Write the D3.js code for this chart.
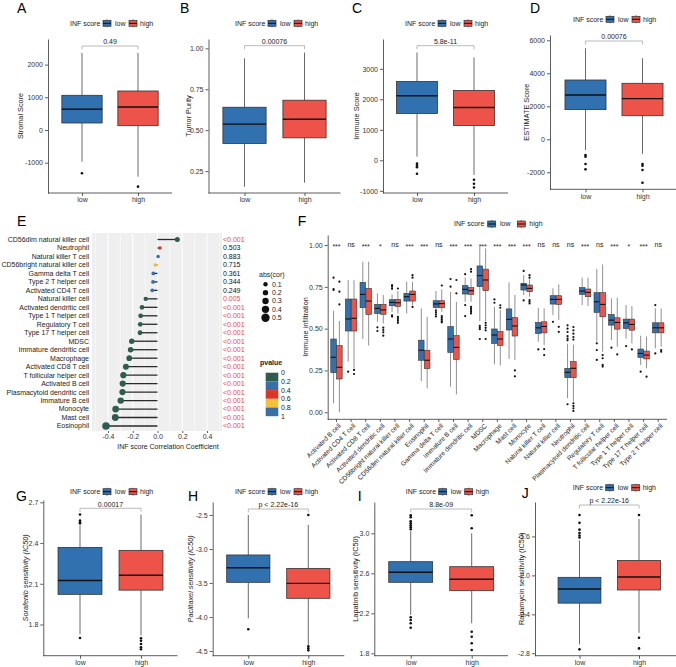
<!DOCTYPE html>
<html><head><meta charset="utf-8">
<script src="https://cdn.jsdelivr.net/npm/d3@7"></script>
<style>body{margin:0;background:#fff}svg{font-family:"Liberation Sans",Arial,sans-serif;display:block}</style>
</head><body><svg id="c" width="676" height="667"></svg>
<script>
// ---------------- DATA ----------------
const groups = ["low", "high"];
const groupColors = ["#3171B0", "#EE5349"];
// five-number summaries: [whiskerLow, q1, median, q3, whiskerHigh]
const stromalLow = [-970, 214, 633, 1061, 2355];
const stromalHigh = [-1428, 132, 703, 1193, 2355];
const stromalOutLow = [-1325];
const stromalOutHigh = [-1733];
const stromalTicks = [-1000, 0, 1000, 2000];

const purityLow = [0.155, 0.419, 0.537, 0.640, 0.939];
const purityHigh = [0.179, 0.453, 0.567, 0.683, 0.974];
const purityOutLow = [];
const purityOutHigh = [];
const purityTicks = [0.25, 0.50, 0.75, 1.00];

const immuneLow = [120, 1535, 2115, 2584, 3535];
const immuneHigh = [-480, 1140, 1730, 2290, 3370];
const immuneOutLow = [-110, -170, -230, -440];
const immuneOutHigh = [-640, -770, -890];
const immuneTicks = [-1000, 0, 1000, 2000, 3000];

const estimateLow = [-650, 1800, 2685, 3594, 5515];
const estimateHigh = [-880, 1430, 2467, 3394, 4910];
const estimateOutLow = [-950, -1050, -1500, -1820];
const estimateOutHigh = [-1500, -1600, -1860, -2630];
const estimateTicks = [-2000, 0, 2000, 4000, 6000];

const sorafenibLow = [1.73, 2.022, 2.124, 2.368, 2.53];
const sorafenibHigh = [1.72, 2.053, 2.163, 2.346, 2.61];
const sorafenibOutLow = [2.61, 2.565, 2.555, 2.545, 1.70];
const sorafenibOutHigh = [1.699, 1.68, 1.656, 1.632, 1.617];
const sorafenibTicks = [1.8, 2.1, 2.4, 2.7];

const paclitaxelLow = [-4.02, -3.49, -3.275, -3.088, -2.5];
const paclitaxelHigh = [-4.41, -3.725, -3.505, -3.285, -2.647];
const paclitaxelOutLow = [-4.18];
const paclitaxelOutHigh = [-2.5, -4.43, -4.46, -4.49];
const paclitaxelTicks = [-4.5, -4.0, -3.5, -3.0, -2.5];

const lapatinibLow = [2.183, 2.51, 2.61, 2.716, 3.02];
const lapatinibHigh = [2.10, 2.426, 2.54, 2.666, 3.0];
const lapatinibOutLow = [3.18, 3.16, 3.12, 3.10, 3.08, 3.06, 3.04, 2.16, 2.133, 2.10, 2.056];
const lapatinibOutHigh = [3.18, 3.05, 2.016, 1.966, 1.90, 1.833];
const lapatinibTicks = [1.8, 2.2, 2.6, 3.0];

const rapamycinLow = [-2.71, -2.285, -2.14, -2.02, -1.64];
const rapamycinHigh = [-2.59, -2.15, -2.017, -1.846, -1.42];
const rapamycinOutLow = [-1.38, -1.46, -1.53, -1.565, -1.59, -1.61, -2.76];
const rapamycinOutHigh = [-1.38, -2.64, -2.75];
const rapamycinTicks = [-2.8, -2.4, -2.0, -1.6];

// Panel E (lollipop)
const eCells = ["CD56dim natural killer cell","Neutrophil","Natural killer T cell","CD56bright natural killer cell","Gamma delta T cell","Type 2 T helper cell","Activated CD4 T cell","Natural killer cell","Activated dendritic cell","Type 1 T helper cell","Regulatory T cell","Type 17 T helper cell","MDSC","Immature dendritic cell","Macrophage","Activated CD8 T cell","T follicular helper cell","Activated B cell","Plasmacytoid dendritic cell","Immature  B cell","Monocyte","Mast cell","Eosinophil"];
const eCor = [0.16, 0.02, 0.005, -0.018, -0.034, -0.036, -0.042, -0.095, -0.125, -0.136, -0.139, -0.141, -0.208, -0.217, -0.228, -0.255, -0.276, -0.281, -0.283, -0.297, -0.338, -0.341, -0.416];
const ePValue = [0.0005, 0.503, 0.883, 0.715, 0.361, 0.344, 0.249, 0.005, 0.0005, 0.0005, 0.0005, 0.0005, 0.0005, 0.0005, 0.0005, 0.0005, 0.0005, 0.0005, 0.0005, 0.0005, 0.0005, 0.0005, 0.0005];
const ePText = ["<0.001","0.503","0.883","0.715","0.361","0.344","0.249","0.005","<0.001","<0.001","<0.001","<0.001","<0.001","<0.001","<0.001","<0.001","<0.001","<0.001","<0.001","<0.001","<0.001","<0.001","<0.001"];
const eTicks = [-0.4, -0.2, 0.0, 0.2, 0.4];
const eSizeLegend = [0.1, 0.2, 0.3, 0.4, 0.5];
const pBreaks = [0, 0.2, 0.4, 0.6, 0.8, 1];
const pColors = ["#2F5B50", "#3A6EA8", "#D9352A", "#F2C03A", "#3A6EA8"];

// Panel F (grouped boxplots)
const fCells = ["Activated B cell","Activated CD4 T cell","Activated CD8 T cell","Activated dendritic cell","CD56bright natural killer cell","CD56dim natural killer cell","Eosinophil","Gamma delta T cell","Immature  B cell","Immature dendritic cell","MDSC","Macrophage","Mast cell","Monocyte","Natural killer T cell","Natural killer cell","Neutrophil","Plasmacytoid dendritic cell","Regulatory T cell","T follicular helper cell","Type 1 T helper cell","Type 17 T helper cell","Type 2 T helper cell"];
const fLow = [
[0.054,0.237,0.329,0.438,0.607],[0.303,0.486,0.558,0.677,0.790],[0.438,0.625,0.705,0.777,0.900],[0.541,0.591,0.621,0.645,0.711],
[0.600,0.637,0.657,0.673,0.705],[0.591,0.665,0.691,0.711,0.781],[0.187,0.311,0.371,0.431,0.621],[0.612,0.627,0.648,0.667,0.725],
[0.153,0.358,0.438,0.512,0.721],[0.660,0.707,0.735,0.757,0.805],[0.545,0.751,0.817,0.875,0.990],[0.287,0.412,0.462,0.498,0.630],
[0.319,0.492,0.556,0.618,0.777],[0.701,0.731,0.761,0.771,0.820],[0.422,0.471,0.505,0.537,0.625],[0.581,0.647,0.675,0.697,0.741],
[0.084,0.207,0.239,0.263,0.410],[0.641,0.705,0.725,0.745,0.805],[0.422,0.597,0.661,0.715,0.856],[0.432,0.521,0.551,0.585,0.681],
[0.441,0.501,0.535,0.557,0.641],[0.283,0.328,0.352,0.378,0.458],[0.382,0.475,0.505,0.535,0.621]];
const fHigh = [
[0.000,0.199,0.269,0.399,0.546],[0.263,0.486,0.562,0.677,0.790],[0.399,0.585,0.665,0.741,0.900],[0.531,0.586,0.612,0.645,0.701],
[0.590,0.633,0.655,0.675,0.725],[0.641,0.665,0.705,0.725,0.780],[0.143,0.261,0.311,0.371,0.571],[0.600,0.625,0.650,0.667,0.735],
[0.107,0.316,0.388,0.458,0.660],[0.661,0.705,0.727,0.745,0.800],[0.545,0.727,0.791,0.856,0.980],[0.279,0.399,0.438,0.483,0.611],
[0.313,0.456,0.516,0.566,0.701],[0.691,0.721,0.741,0.761,0.795],[0.402,0.475,0.513,0.541,0.621],[0.551,0.645,0.675,0.697,0.765],
[0.064,0.207,0.263,0.303,0.405],[0.635,0.691,0.717,0.737,0.805],[0.362,0.571,0.645,0.715,0.884],[0.392,0.497,0.537,0.565,0.685],
[0.412,0.491,0.525,0.557,0.635],[0.263,0.319,0.342,0.366,0.452],[0.392,0.475,0.505,0.535,0.621]];
const fOutLow = [
[0.805,0.737,0.731],[0.243],[],[0.508,0.486],[0.760,0.750,0.738,0.580,0.572],[],[],[0.608,0.598,0.586,0.573],
[0.797,0.751],[0.826,0.641,0.575],[0.517,0.507,0.497,0.438],[0.675,0.655],[],[0.845,0.669],[0.376],[0.541],
[0.52,0.50,0.48,0.455,0.44,0.43,0.048],[],[0.412,0.372,0.313],[0.386],[0.396],[0.243],[0.641,0.352]];
const fOutHigh = [
[0.781,0.721,0.645],[0.253,0.229],[],[0.506,0.492,0.478,0.458],[0.740,0.570,0.558,0.547,0.535],[0.820,0.805,0.630],[],[0.758,0.575,0.565,0.555,0.545,0.538],
[0.791,0.711],[0.856,0.841,0.631,0.621,0.611,0.601,0.591],[0.535,0.520,0.505,0.490,0.438],[0.640,0.625],[0.250,0.215],[0.820,0.805,0.671,0.661,0.651],[0.378,0.342],[0.511,0.481],
[0.51,0.49,0.47,0.45,0.435,0.054,0.038,0.024,0.008],[],[0.342,0.323,0.283,0.273],[0.346],[0.376],[0.213],[0.372,0.362]];
const fSig = ["***","ns","***","*","ns","***","***","ns","***","***","***","***","***","***","ns","ns","ns","***","ns","***","*","***","ns"];
const fTicks = [0, 0.25, 0.50, 0.75, 1.00];

// ---------------- DRAW ----------------
const svg = d3.select("#c");
const TXT = "#222";
const noMinus = f => d => f(d).replace("\u2212", "-");

function legend(x0, y, offs) {
  const g = svg.append("g");
  g.append("text").attr("x", x0).attr("y", y).attr("dy", "0.35em").attr("font-size", 7).attr("fill", TXT).text("INF score");
  groups.forEach((gr, i) => {
    const kx = x0 + offs[i * 2];
    g.append("line").attr("x1", kx + 4).attr("x2", kx + 4).attr("y1", y - 4).attr("y2", y + 4).attr("stroke", "#555").attr("stroke-width", 0.8);
    g.append("rect").attr("x", kx).attr("y", y - 3).attr("width", 8).attr("height", 6).attr("fill", groupColors[i]).attr("stroke", "#333").attr("stroke-width", 0.7);
    g.append("line").attr("x1", kx).attr("x2", kx + 8).attr("y1", y).attr("y2", y).attr("stroke", "#111").attr("stroke-width", 1);
    g.append("text").attr("x", x0 + offs[i * 2 + 1]).attr("y", y).attr("dy", "0.35em").attr("font-size", 7).attr("fill", TXT).text(gr);
  });
}

function drawBox(g, cx, w, s, outs, color, y, r, lw, mw) {
  g.append("line").attr("x1", cx).attr("x2", cx).attr("y1", y(s[0])).attr("y2", y(s[1])).attr("stroke", "#444").attr("stroke-width", lw);
  g.append("line").attr("x1", cx).attr("x2", cx).attr("y1", y(s[3])).attr("y2", y(s[4])).attr("stroke", "#444").attr("stroke-width", lw);
  g.append("rect").attr("x", cx - w / 2).attr("y", y(s[3])).attr("width", w).attr("height", y(s[1]) - y(s[3]))
    .attr("fill", color).attr("stroke", "#333").attr("stroke-width", lw);
  g.append("line").attr("x1", cx - w / 2).attr("x2", cx + w / 2).attr("y1", y(s[2])).attr("y2", y(s[2])).attr("stroke", "#111").attr("stroke-width", mw);
  outs.forEach(o => g.append("circle").attr("cx", cx).attr("cy", y(o)).attr("r", r).attr("fill", "#111"));
}

function styleAxis(sel, fs) {
  sel.attr("font-family", null).attr("font-size", null);
  sel.selectAll("text").attr("font-size", fs).attr("fill", "#333");
  sel.selectAll("line").attr("stroke", "#333").attr("stroke-width", 0.8);
  sel.selectAll("path").attr("stroke", "#333").attr("stroke-width", 0.8);
}

function boxPanel(c) {
  const g = svg.append("g");
  const y = d3.scaleLinear().domain(c.dom).range(c.yr);
  const x = d3.scalePoint().domain(groups).range(c.cx);
  const w = 0.72 * (c.cx[1] - c.cx[0]);
  const ya = g.append("g").attr("transform", `translate(${c.ax[0]},0)`)
    .call(d3.axisLeft(y).tickValues(c.ticks).tickSize(3).tickPadding(2).tickSizeOuter(0).tickFormat(noMinus(c.fmt)));
  styleAxis(ya, 7);
  const xa = g.append("g").attr("transform", `translate(0,${c.yr[0]})`)
    .call(d3.axisBottom(x).tickSize(3).tickPadding(1.5));
  xa.select(".domain").remove();
  styleAxis(xa, 7);
  g.append("line").attr("x1", c.ax[0]).attr("x2", c.ax[1]).attr("y1", c.yr[0]).attr("y2", c.yr[0]).attr("stroke", "#333").attr("stroke-width", 0.8);
  groups.forEach((gr, i) => drawBox(g, x(gr), w, c.stats[i], c.outs[i], groupColors[i], y, 1.3, 0.8, 1.4));
  const by = c.by;
  g.append("path").attr("d", `M${x("low")},${by + 3.5}V${by}H${x("high")}V${by + 3.5}`).attr("fill", "none").attr("stroke", "#a8a8a8").attr("stroke-width", 0.8);
  g.append("text").attr("x", (x("low") + x("high")) / 2).attr("y", by - 1.8).attr("text-anchor", "middle").attr("font-size", 7).attr("fill", TXT).text(c.p);
  g.append("text").attr("transform", `translate(${c.tx},${(c.yr[0] + c.yr[1]) / 2}) rotate(-90)`).attr("text-anchor", "middle")
    .attr("dy", "0.35em").attr("font-size", 7.3).attr("fill", TXT).attr("font-style", c.italic ? "italic" : null).text(c.title);
  svg.append("text").attr("x", c.letter[0]).attr("y", c.letter[1]).attr("font-size", 14).attr("fill", "#000").text(c.L);
  legend(c.lg[0], c.lg[1], [33, 45, 59, 70]);
}

const f0 = d3.format("d"), f2 = d3.format(".2f"), f1 = d3.format(".1f");
const topPanels = [
  {L:"A", stats:[stromalLow, stromalHigh], outs:[stromalOutLow, stromalOutHigh], ticks:stromalTicks, fmt:f0, p:"0.49", title:"Stromal Score",
   cx:[82,138], ax:[48,172], yr:[193,39], dom:[-1927,2783], by:46, tx:20, letter:[17,13], lg:[70,23.3]},
  {L:"B", stats:[purityLow, purityHigh], outs:[purityOutLow, purityOutHigh], ticks:purityTicks, fmt:f2, p:"0.00076", title:"Tumor Purity",
   cx:[244.5,304.5], ax:[208.5,340.5], yr:[193,39], dom:[0.116,1.057], by:45.7, tx:188, letter:[180,13], lg:[235,23.3]},
  {L:"C", stats:[immuneLow, immuneHigh], outs:[immuneOutLow, immuneOutHigh], ticks:immuneTicks, fmt:f0, p:"5.8e-11", title:"Immune Score",
   cx:[417,474], ax:[383,508], yr:[193,39], dom:[-1072,3977], by:45.7, tx:356, letter:[352,13], lg:[405,23.3]},
  {L:"D", stats:[estimateLow, estimateHigh], outs:[estimateOutLow, estimateOutHigh], ticks:estimateTicks, fmt:f0, p:"0.00076", title:"ESTIMATE Score",
   cx:[585.5,642.5], ax:[550,676], yr:[189.3,35], dom:[-3030,6321], by:41, tx:526, letter:[530,13], lg:[573,19.3]},
  {L:"G", stats:[sorafenibLow, sorafenibHigh], outs:[sorafenibOutLow, sorafenibOutHigh], ticks:sorafenibTicks, fmt:f1, p:"0.00017", title:"Sorafenib sensitivity (IC50)", italic:true,
   cx:[80,141], ax:[43.3,177.5], yr:[655.7,500], dom:[1.570,2.717], by:508.3, tx:25, letter:[16,501], lg:[70,491.7]},
  {L:"H", stats:[paclitaxelLow, paclitaxelHigh], outs:[paclitaxelOutLow, paclitaxelOutHigh], ticks:paclitaxelTicks, fmt:f1, p:"p < 2.22e-16", title:"Paclitaxel sensitivity (IC50)", italic:true,
   cx:[248.3,308.3], ax:[212.7,344.3], yr:[655.7,502], dom:[-4.569,-2.309], by:509, tx:190, letter:[188,501], lg:[235,491.7]},
  {L:"I", stats:[lapatinibLow, lapatinibHigh], outs:[lapatinibOutLow, lapatinibOutHigh], ticks:lapatinibTicks, fmt:f1, p:"8.8e-09", title:"Lapatinib sensitivity (IC50)",
   cx:[410.7,471.7], ax:[374.3,508], yr:[655.7,502], dom:[1.776,3.313], by:509, tx:355.7, letter:[357.7,501], lg:[405.7,491.7]},
  {L:"J", stats:[rapamycinLow, rapamycinHigh], outs:[rapamycinOutLow, rapamycinOutHigh], ticks:rapamycinTicks, fmt:f1, p:"p < 2.22e-16", title:"Rapamycin sensitivity (IC50)",
   cx:[579.5,639], ax:[535,676], yr:[655.7,502], dom:[-2.825,-1.246], by:505, tx:521, letter:[521.7,498], lg:[572.7,487.7]}
];
topPanels.forEach(boxPanel);

// ---------- Panel E ----------
(function () {
  const g = svg.append("g");
  const x = d3.scaleLinear().domain([-0.529, 0.521]).range([92, 222]);
  const y = d3.scalePoint().domain(eCells).range([239.5, 426]);
  const r = d3.scaleLinear().domain([0, 0.5]).range([1.7, 4.2]);
  const col = d3.scaleThreshold().domain(pBreaks.slice(1, 5)).range(pColors);
  g.append("rect").attr("x", x.range()[0]).attr("y", 233).attr("width", x.range()[1] - x.range()[0]).attr("height", 198).attr("fill", "#EFEFEF");
  [-0.5, -0.3, -0.1, 0.1, 0.3, 0.5].forEach(v => g.append("line").attr("x1", x(v)).attr("x2", x(v)).attr("y1", 233).attr("y2", 431).attr("stroke", "#fff").attr("stroke-width", 0.5));
  eTicks.forEach(v => g.append("line").attr("x1", x(v)).attr("x2", x(v)).attr("y1", 233).attr("y2", 431).attr("stroke", "#fff").attr("stroke-width", 1));
  eCells.forEach((c, i) => {
    g.append("line").attr("x1", x(0)).attr("x2", x(eCor[i])).attr("y1", y(c)).attr("y2", y(c)).attr("stroke", "#2a2a2a").attr("stroke-width", 1.3);
  });
  eCells.forEach((c, i) => {
    g.append("circle").attr("cx", x(eCor[i])).attr("cy", y(c)).attr("r", r(Math.abs(eCor[i]))).attr("fill", col(ePValue[i]));
    g.append("text").attr("x", 89).attr("y", y(c)).attr("dy", "0.35em").attr("text-anchor", "end").attr("font-size", 7).attr("fill", TXT).text(c);
    g.append("text").attr("x", 223).attr("y", y(c)).attr("dy", "0.35em").attr("font-size", 7)
      .attr("fill", ePValue[i] < 0.05 ? "#F0484A" : "#111").text(ePText[i]);
  });
  const xa = g.append("g").attr("transform", "translate(0,431)").call(d3.axisBottom(x).tickValues(eTicks).tickSize(2).tickPadding(1.5).tickFormat(noMinus(f1)));
  xa.select(".domain").remove();
  styleAxis(xa, 7);
  g.append("text").attr("x", 168).attr("y", 449).attr("text-anchor", "middle").attr("font-size", 7).attr("fill", TXT).text("INF score Correlation Coefficient");
  g.append("text").attr("x", 259).attr("y", 274.5).attr("dy", "0.35em").attr("font-size", 7).attr("fill", TXT).text("abs(cor)");
  const ly = d3.scalePoint().domain(eSizeLegend).range([284.3, 317.7]);
  eSizeLegend.forEach(v => {
    g.append("circle").attr("cx", 265.5).attr("cy", ly(v)).attr("r", r(v)).attr("fill", "#111");
    g.append("text").attr("x", 272).attr("y", ly(v)).attr("dy", "0.35em").attr("font-size", 7).attr("fill", TXT).text(v);
  });
  g.append("text").attr("x", 260).attr("y", 363).attr("dy", "0.35em").attr("font-size", 7).attr("font-weight", "bold").attr("fill", TXT).text("pvalue");
  const py = d3.scaleLinear().domain([0, 1]).range([372.7, 416.2]);
  pColors.forEach((cc, i) => g.append("rect").attr("x", 265.7).attr("y", py(pBreaks[i])).attr("width", 12.6).attr("height", py(pBreaks[i + 1]) - py(pBreaks[i])).attr("fill", cc));
  pBreaks.forEach(v => g.append("text").attr("x", 281).attr("y", py(v)).attr("dy", "0.35em").attr("font-size", 7).attr("fill", TXT).text(v));
  svg.append("text").attr("x", 17).attr("y", 226).attr("font-size", 14).attr("fill", "#000").text("E");
})();

// ---------- Panel F ----------
(function () {
  const g = svg.append("g");
  const x = d3.scalePoint().domain(fCells).range([327.7, 667]).padding(0.6);
  const y = d3.scaleLinear().domain([-0.042, 1.06]).range([419.3, 235]);
  const st = x.step();
  const ya = g.append("g").attr("transform", "translate(327.7,0)")
    .call(d3.axisLeft(y).tickValues(fTicks).tickSize(3).tickPadding(2).tickSizeOuter(0).tickFormat(f2));
  styleAxis(ya, 7);
  g.append("line").attr("x1", 327.7).attr("x2", 667).attr("y1", 419.3).attr("y2", 419.3).attr("stroke", "#333").attr("stroke-width", 0.8);
  fCells.forEach((c, i) => {
    const cx = x(c);
    drawBox(g, cx - 0.2 * st, 0.38 * st, fLow[i], fOutLow[i], groupColors[0], y, 1.1, 0.6, 1.1);
    drawBox(g, cx + 0.2 * st, 0.38 * st, fHigh[i], fOutHigh[i], groupColors[1], y, 1.1, 0.6, 1.1);
    g.append("line").attr("x1", cx).attr("x2", cx).attr("y1", 419.3).attr("y2", 422).attr("stroke", "#333").attr("stroke-width", 0.8);
    g.append("text").attr("transform", `translate(${cx + 1.5},${423}) rotate(-45)`).attr("text-anchor", "end").attr("dy", "0.7em")
      .attr("font-size", 6.6).attr("fill", TXT).text(c);
    g.append("text").attr("x", cx).attr("y", y(1.0)).attr("dy", fSig[i] === "ns" ? "0.3em" : "0.6em").attr("text-anchor", "middle").attr("font-size", 7).attr("fill", TXT).text(fSig[i]);
  });
  g.append("text").attr("transform", "translate(305.7,327) rotate(-90)").attr("text-anchor", "middle").attr("dy", "0.35em").attr("font-size", 7.3).attr("fill", TXT).text("Immune infiltration");
  svg.append("text").attr("x", 297.7).attr("y", 226).attr("font-size", 14).attr("fill", "#000").text("F");
  legend(454, 224, [33.7, 46, 63.3, 75.3]);
})();
</script></body></html>
